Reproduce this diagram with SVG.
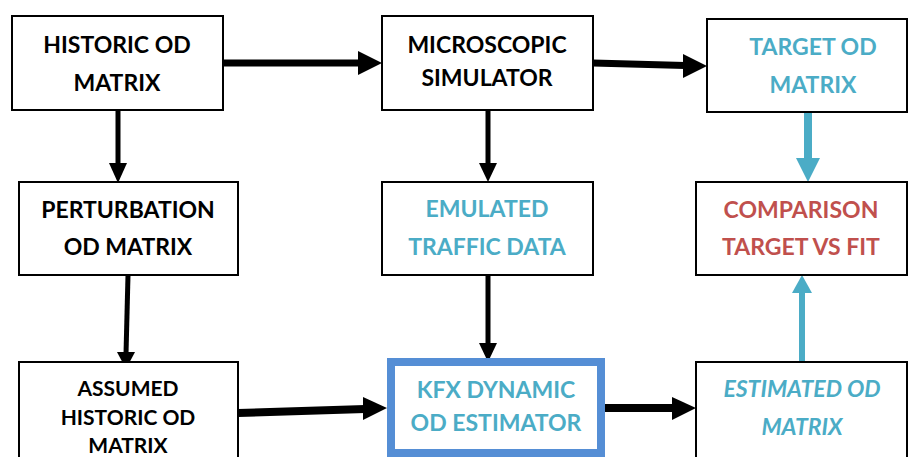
<svg xmlns="http://www.w3.org/2000/svg" width="909" height="457" viewBox="0 0 909 457">
  <style>
    .box { fill: #ffffff; stroke: #000000; stroke-width: 2; }
    .kfx { fill: #ffffff; stroke: #558ED5; stroke-width: 8; }
    .lbl { font-family: Lato, "Open Sans", "Liberation Sans", sans-serif; font-weight: bold; font-size: 23px; text-anchor: middle; }
    .sm { font-size: 21px; }
    .dark { fill: #000000; }
    .teal { fill: #4BACC6; }
    .red { fill: #C0504D; }
    .ital { font-style: italic; }
    .wire { stroke: #000000; fill: none; }
    .wireB { stroke: #4BACC6; fill: none; }
    .head { fill: #000000; }
    .headB { fill: #4BACC6; }
  </style>
  <rect width="909" height="457" fill="#ffffff"/>

  <g id="connectors">
    <!-- historic -> simulator -->
    <line class="wire" x1="223" y1="63" x2="360" y2="63" stroke-width="7"/>
    <polygon class="head" points="358,51 382,63 358,75"/>
    <!-- simulator -> target -->
    <line class="wire" x1="593" y1="63" x2="685" y2="65.5" stroke-width="7"/>
    <polygon class="head" points="683,54 707,66 683,78"/>
    <!-- historic -> perturbation -->
    <line class="wire" x1="118" y1="111" x2="118" y2="166" stroke-width="5"/>
    <polygon class="head" points="109,163 118,183 127,163"/>
    <!-- simulator -> emulated -->
    <line class="wire" x1="488" y1="110" x2="488" y2="166" stroke-width="5"/>
    <polygon class="head" points="479,163 488,182 497,163"/>
    <!-- target -> comparison -->
    <line class="wireB" x1="808" y1="112" x2="808" y2="160" stroke-width="8"/>
    <polygon class="headB" points="796,158 808,182 820,158"/>
    <!-- perturbation -> assumed -->
    <line class="wire" x1="128" y1="275" x2="126" y2="354" stroke-width="5"/>
    <polygon class="head" points="117,352 126,369 135,352"/>
    <!-- emulated -> kfx -->
    <line class="wire" x1="488" y1="275" x2="488" y2="346" stroke-width="5"/>
    <polygon class="head" points="479,343 488,362 497,343"/>
    <!-- assumed -> kfx -->
    <line class="wire" x1="238" y1="413" x2="365" y2="409" stroke-width="8"/>
    <polygon class="head" points="363,397 387,408 363,420"/>
    <!-- kfx -> estimated -->
    <line class="wire" x1="605" y1="408" x2="674" y2="408" stroke-width="8"/>
    <polygon class="head" points="672,397 696,408 672,420"/>
    <!-- estimated -> comparison -->
    <line class="wireB" x1="802" y1="362" x2="802" y2="291" stroke-width="6"/>
    <polygon class="headB" points="792,293 802,275 812,293"/>
  </g>

  <g id="historic-od">
    <rect class="box" x="12" y="16" width="211" height="94"/>
    <text class="lbl dark" x="117" y="53">HISTORIC OD</text>
    <text class="lbl dark" x="117" y="91">MATRIX</text>
  </g>

  <g id="simulator">
    <rect class="box" x="382" y="16" width="211" height="94"/>
    <text class="lbl dark" x="487" y="53">MICROSCOPIC</text>
    <text class="lbl dark" x="487" y="86">SIMULATOR</text>
  </g>

  <g id="target-od">
    <rect class="box" x="707" y="19" width="200" height="93"/>
    <text class="lbl teal" x="813" y="55">TARGET OD</text>
    <text class="lbl teal" x="813" y="93">MATRIX</text>
  </g>

  <g id="perturbation-od">
    <rect class="box" x="19" y="182" width="219" height="93"/>
    <text class="lbl dark" x="128" y="218">PERTURBATION</text>
    <text class="lbl dark" x="128" y="255">OD MATRIX</text>
  </g>

  <g id="emulated-data">
    <rect class="box" x="382" y="182" width="211" height="93"/>
    <text class="lbl teal" x="487" y="217">EMULATED</text>
    <text class="lbl teal" x="487" y="255">TRAFFIC DATA</text>
  </g>

  <g id="comparison">
    <rect class="box" x="696" y="182" width="211" height="93"/>
    <text class="lbl red" x="801" y="218">COMPARISON</text>
    <text class="lbl red" x="801" y="255">TARGET VS FIT</text>
  </g>

  <g id="assumed-od">
    <rect class="box" x="19" y="362" width="219" height="100"/>
    <text class="lbl sm dark" x="128" y="396">ASSUMED</text>
    <text class="lbl sm dark" x="128" y="425">HISTORIC OD</text>
    <text class="lbl sm dark" x="128" y="453">MATRIX</text>
  </g>

  <g id="kfx-estimator">
    <rect class="kfx" x="391" y="362" width="210" height="91"/>
    <text class="lbl teal" x="496" y="398">KFX DYNAMIC</text>
    <text class="lbl teal" x="496" y="431">OD ESTIMATOR</text>
  </g>

  <g id="estimated-od">
    <rect class="box" x="696" y="362" width="211" height="100"/>
    <text class="lbl teal ital" x="802" y="397">ESTIMATED OD</text>
    <text class="lbl teal ital" x="802" y="435">MATRIX</text>
  </g>
</svg>
